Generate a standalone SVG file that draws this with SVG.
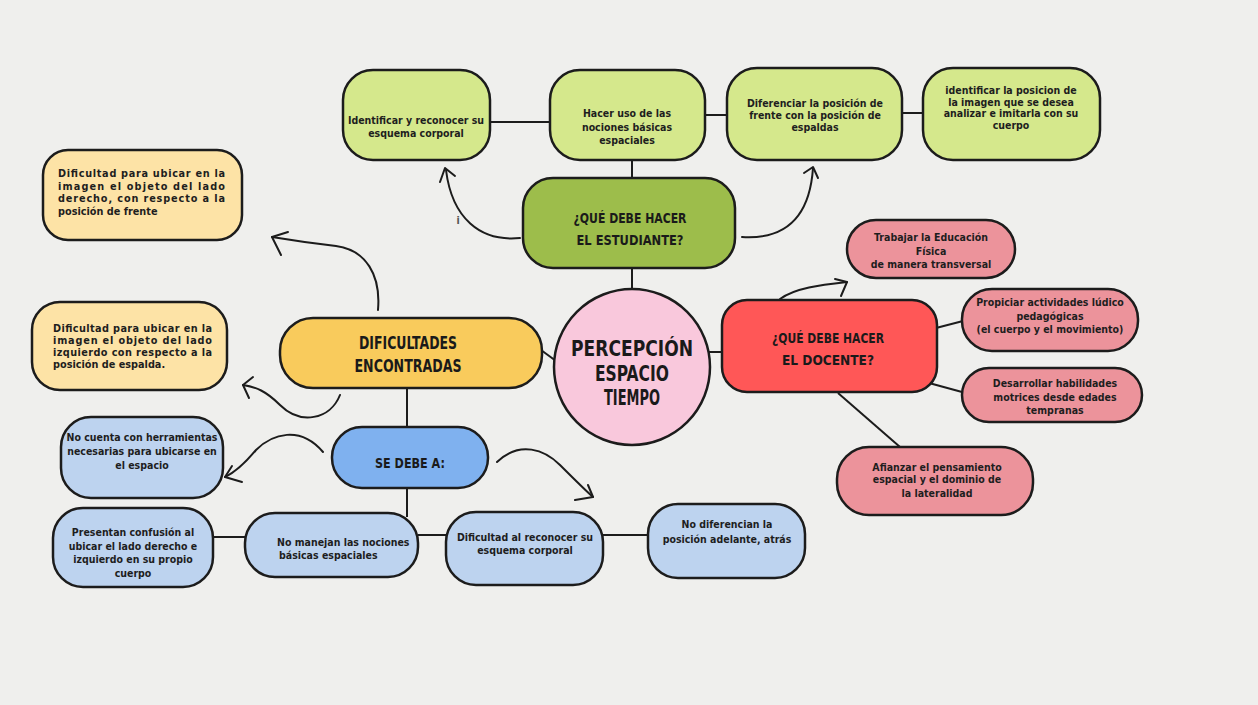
<svg xmlns="http://www.w3.org/2000/svg" width="1258" height="705" viewBox="0 0 1258 705">
<style>
.box{stroke:#1c1c1c;stroke-width:2.5}
.ln{stroke:#1c1c1c;stroke-width:2;fill:none}
.ar{stroke:#1c1c1c;stroke-width:2;fill:none;stroke-linecap:round;stroke-linejoin:round}
.t{font-family:'Liberation Sans Narrow','DejaVu Sans Condensed','DejaVu Sans',sans-serif;font-weight:bold;font-size:10.5px;fill:#1e1e1e;text-anchor:middle}
.tl{font-family:'Liberation Sans Narrow','DejaVu Sans Condensed','DejaVu Sans',sans-serif;font-weight:bold;font-size:10.8px;fill:#1e1e1e;text-anchor:start}
.h{font-family:'Liberation Sans Narrow','DejaVu Sans Condensed','DejaVu Sans',sans-serif;font-weight:bold;fill:#1a1a1a;text-anchor:middle}
.g{fill:#d5e88c}.gd{fill:#9dbd4b}.y{fill:#f9cb5c}.yl{fill:#fde3a6}.pk{fill:#f9c8dc}
.r{fill:#ff5757}.rp{fill:#ec939b}.b{fill:#7fb1ef}.bl{fill:#bdd3ef}
</style>
<rect x="0" y="0" width="1258" height="705" fill="#efefed"/>
<g id="connectors">
<line class="ln" x1="490" y1="122" x2="550" y2="122"/>
<line class="ln" x1="705" y1="115" x2="727" y2="115"/>
<line class="ln" x1="902" y1="113" x2="923" y2="113"/>
<line class="ln" x1="632" y1="160" x2="632" y2="178"/>
<line class="ln" x1="632" y1="268" x2="632" y2="289"/>
<line class="ln" x1="541" y1="350" x2="556" y2="361"/>
<line class="ln" x1="709" y1="352" x2="722" y2="352"/>
<line class="ln" x1="407" y1="388" x2="407" y2="427"/>
<line class="ln" x1="407" y1="488" x2="407" y2="517"/>
<line class="ln" x1="213" y1="537" x2="245" y2="537"/>
<line class="ln" x1="418" y1="535" x2="446" y2="535"/>
<line class="ln" x1="603" y1="535" x2="648" y2="535"/>
<line class="ln" x1="936" y1="328" x2="963" y2="321"/>
<line class="ln" x1="929" y1="383" x2="962" y2="392"/>
<line class="ln" x1="838" y1="393" x2="900" y2="447"/>
<path class="ar" d="M520,238 C480,242 452,218 446,170"/>
<path class="ar" d="M440,182 L445,168 L455,176"/>
<path class="ar" d="M742,237 C790,240 810,212 813,168"/>
<path class="ar" d="M804,173 L813,167 L818,178"/>
<path class="ar" d="M378,310 C381,275 366,250 336,246 C310,243 290,240 272,237"/>
<path class="ar" d="M288,232 L272,237 L281,255"/>
<path class="ar" d="M340,395 C330,420 300,425 280,405 C266,391 256,387 243,385"/>
<path class="ar" d="M253,377 L243,385 L249,398"/>
<path class="ar" d="M323,452 C300,425 272,434 256,450 C246,462 236,472 225,477"/>
<path class="ar" d="M232,466 L225,477 L242,482"/>
<path class="ar" d="M497,462 C520,440 545,450 560,465 C575,480 585,490 593,497"/>
<path class="ar" d="M575,500 L593,497 L588,485"/>
<path class="ar" d="M780,299 C795,288 820,285 847,282"/>
<path class="ar" d="M835,279 L847,282 L841,296"/>
</g>
<text class="t" x="458" y="224" font-size="9" style="fill:#555">i</text>
<g id="n-identificar">
<rect class="box g" x="343" y="70" width="147" height="90" rx="30"/>
<text class="t" x="416" y="124">Identificar y reconocer su</text>
<text class="t" x="416" y="137">esquema corporal</text>
</g>
<g id="n-hacer-uso">
<rect class="box g" x="550" y="70" width="155" height="90" rx="30"/>
<text class="t" x="627" y="117">Hacer uso de las</text>
<text class="t" x="627" y="130.5">nociones básicas</text>
<text class="t" x="627" y="144">espaciales</text>
</g>
<g id="n-diferenciar">
<rect class="box g" x="727" y="68" width="175" height="92" rx="30"/>
<text class="t" x="815" y="107">Diferenciar la posición de</text>
<text class="t" x="815" y="119">frente con la posición de</text>
<text class="t" x="815" y="131">espaldas</text>
</g>
<g id="n-identificar-posicion">
<rect class="box g" x="923" y="68" width="177" height="92" rx="30"/>
<text class="t" x="1011" y="94">identificar la posicion de</text>
<text class="t" x="1011" y="105.5">la imagen  que se desea</text>
<text class="t" x="1011" y="117">analizar e imitarla con su</text>
<text class="t" x="1011" y="129">cuerpo</text>
</g>
<g id="n-estudiante">
<rect class="box gd" x="523" y="178" width="212" height="90" rx="30"/>
<text class="h" x="630" y="223" font-size="14" textLength="113" lengthAdjust="spacingAndGlyphs">¿QUÉ DEBE HACER</text>
<text class="h" x="630" y="245" font-size="14" textLength="107" lengthAdjust="spacingAndGlyphs">EL ESTUDIANTE?</text>
</g>
<g id="n-percepcion">
<circle class="box pk" cx="632" cy="367" r="78"/>
<text class="h" x="632" y="356" font-size="20.5" textLength="122" lengthAdjust="spacingAndGlyphs">PERCEPCIÓN</text>
<text class="h" x="632" y="380.5" font-size="20.5" textLength="74" lengthAdjust="spacingAndGlyphs">ESPACIO</text>
<text class="h" x="632" y="405" font-size="20.5" textLength="56" lengthAdjust="spacingAndGlyphs">TIEMPO</text>
</g>
<g id="n-dificultades">
<rect class="box y" x="280" y="318" width="262" height="70" rx="33"/>
<text class="h" x="408" y="348.5" font-size="17" textLength="98" lengthAdjust="spacingAndGlyphs">DIFICULTADES</text>
<text class="h" x="408" y="371.5" font-size="17" textLength="107" lengthAdjust="spacingAndGlyphs">ENCONTRADAS</text>
</g>
<g id="n-dif-derecho">
<rect class="box yl" x="43" y="150" width="199" height="90" rx="25"/>
<text class="tl" x="58" y="177" textLength="167" lengthAdjust="spacing">Dificultad para ubicar en la</text>
<text class="tl" x="58" y="189.5" textLength="167" lengthAdjust="spacing">imagen el objeto del lado</text>
<text class="tl" x="58" y="202" textLength="167" lengthAdjust="spacing">derecho, con respecto a la</text>
<text class="tl" x="58" y="214.5">posición de frente</text>
</g>
<g id="n-dif-izquierdo">
<rect class="box yl" x="32" y="302" width="195" height="88" rx="28"/>
<text class="tl" x="53" y="331.5" textLength="159" lengthAdjust="spacing">Dificultad para ubicar en la</text>
<text class="tl" x="53" y="343.5" textLength="159" lengthAdjust="spacing">imagen el objeto del lado</text>
<text class="tl" x="53" y="355.5" textLength="159" lengthAdjust="spacing">izquierdo con respecto a la</text>
<text class="tl" x="53" y="367.5">posición de espalda.</text>
</g>
<g id="n-se-debe">
<rect class="box b" x="332" y="427" width="156" height="61" rx="30"/>
<text class="h" x="410" y="468" font-size="14" textLength="70" lengthAdjust="spacingAndGlyphs">SE DEBE A:</text>
</g>
<g id="n-no-cuenta">
<rect class="box bl" x="61" y="417" width="162" height="81" rx="30"/>
<text class="t" x="142" y="441">No cuenta con herramientas</text>
<text class="t" x="142" y="455">necesarias  para ubicarse en</text>
<text class="t" x="142" y="469">el espacio</text>
</g>
<g id="n-presentan">
<rect class="box bl" x="53" y="508" width="160" height="79" rx="30"/>
<text class="t" x="133" y="535.5">Presentan confusión al</text>
<text class="t" x="133" y="549.5">ubicar el lado derecho  e</text>
<text class="t" x="133" y="563">izquierdo en su propio</text>
<text class="t" x="133" y="577">cuerpo</text>
</g>
<g id="n-no-manejan">
<rect class="box bl" x="245" y="513" width="173" height="64" rx="30"/>
<text class="t" x="277" y="545.5" style="text-anchor:start">No manejan las nociones</text>
<text class="t" x="279" y="559" style="text-anchor:start">básicas espaciales</text>
</g>
<g id="n-dificultad-reconocer">
<rect class="box bl" x="446" y="512" width="157" height="73" rx="30"/>
<text class="t" x="525" y="541">Dificultad al reconocer su</text>
<text class="t" x="525" y="554">esquema corporal</text>
</g>
<g id="n-no-diferencian">
<rect class="box bl" x="648" y="504" width="157" height="74" rx="30"/>
<text class="t" x="727" y="528">No diferencian la</text>
<text class="t" x="727" y="543">posición adelante, atrás</text>
</g>
<g id="n-docente">
<rect class="box r" x="722" y="300" width="215" height="92" rx="25"/>
<text class="h" x="828" y="343" font-size="14" textLength="112" lengthAdjust="spacingAndGlyphs">¿QUÉ DEBE HACER</text>
<text class="h" x="828" y="365" font-size="14" textLength="92" lengthAdjust="spacingAndGlyphs">EL DOCENTE?</text>
</g>
<g id="n-trabajar">
<rect class="box rp" x="847" y="220" width="168" height="58" rx="29"/>
<text class="t" x="931" y="240.5">Trabajar la Educación</text>
<text class="t" x="931" y="254.5">Física</text>
<text class="t" x="931" y="268">de manera transversal</text>
</g>
<g id="n-propiciar">
<rect class="box rp" x="962" y="289" width="176" height="62" rx="30"/>
<text class="t" x="1050" y="305.5">Propiciar actividades lúdico</text>
<text class="t" x="1050" y="319.5">pedagógicas</text>
<text class="t" x="1050" y="333">(el cuerpo y el movimiento)</text>
</g>
<g id="n-desarrollar">
<rect class="box rp" x="962" y="368" width="180" height="54" rx="27"/>
<text class="t" x="1055" y="387">Desarrollar  habilidades</text>
<text class="t" x="1055" y="400.5">motrices desde edades</text>
<text class="t" x="1055" y="414">tempranas</text>
</g>
<g id="n-afianzar">
<rect class="box rp" x="837" y="447" width="196" height="68" rx="32"/>
<text class="t" x="937" y="470.5">Afianzar el pensamiento</text>
<text class="t" x="937" y="483">espacial y el dominio de</text>
<text class="t" x="937" y="496.5">la lateralidad</text>
</g>
</svg>
